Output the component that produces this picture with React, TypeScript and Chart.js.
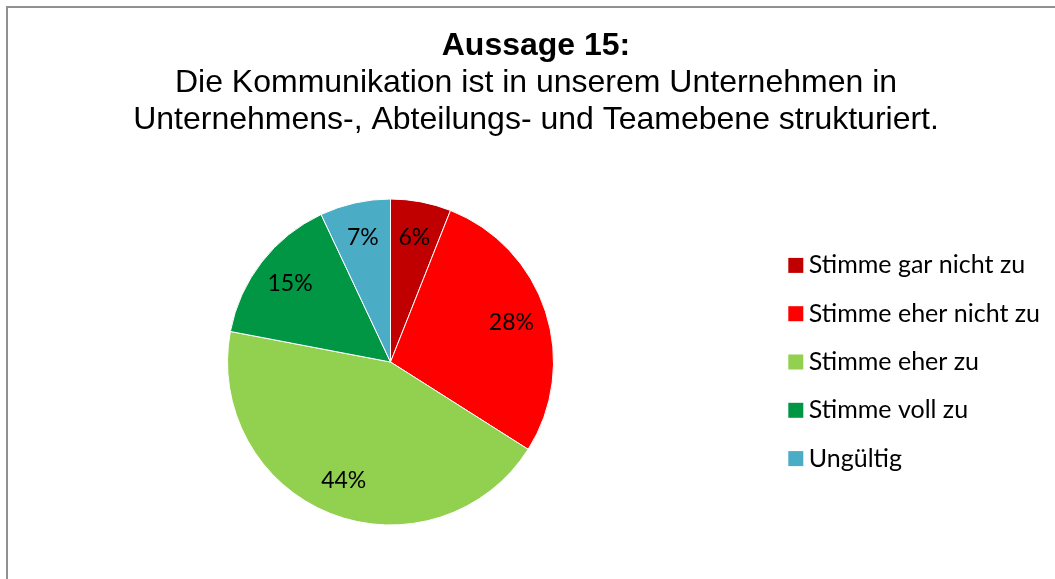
import React, { useEffect, useRef } from "react";
import { Chart, registerables } from "chart.js";

Chart.register(...registerables);

// ---- data ----
const titleLine = "Aussage 15:";
const subtitleLines = [
  "Die Kommunikation ist in unserem Unternehmen in",
  "Unternehmens-, Abteilungs- und Teamebene strukturiert.",
];
const categories = [
  "Stimme gar nicht zu",
  "Stimme eher nicht zu",
  "Stimme eher zu",
  "Stimme voll zu",
  "Ungültig",
];
const shares = [6, 28, 44, 15, 7];
const sliceColors = ["#C00000", "#FF0000", "#92D050", "#009644", "#4BACC6"];

// ---- styling ----
const W = 1055;
const H = 579;
const titleFont = "'Liberation Sans', Arial, sans-serif";
const bodyFont = "Lato, 'Noto Sans', sans-serif";
const PCT_FONT = 23;
const LEGEND_FONT = 25;
const LEGEND_GAP = 23.3;
const BOX_SLOT = 20; // reserved legend box width (invisible)
const SQUARE = 15; // visible legend square
const SQUARE_GAP = 5.5; // space between square and text

const pctLabels = {
  id: "pctLabels",
  afterDatasetsDraw(chart: any) {
    const ctx = chart.ctx;
    const meta = chart.getDatasetMeta(0);
    const total = shares.reduce((a, b) => a + b, 0);
    ctx.save();
    ctx.font = `${PCT_FONT}px ${bodyFont}`;
    ctx.fillStyle = "#000";
    ctx.textAlign = "center";
    ctx.textBaseline = "middle";
    meta.data.forEach((arc: any, i: number) => {
      const { x, y, startAngle, endAngle, outerRadius } = arc.getProps(
        ["x", "y", "startAngle", "endAngle", "outerRadius"],
        true
      );
      const mid = (startAngle + endAngle) / 2;
      const r = outerRadius * 0.78;
      const pct = Math.round((shares[i] / total) * 100);
      ctx.fillText(`${pct}%`, x + Math.cos(mid) * r, y + Math.sin(mid) * r);
    });
    ctx.restore();
  },
};

const legendSquares = {
  id: "legendSquares",
  afterDraw(chart: any) {
    const legend = chart.legend;
    if (!legend || !legend.legendHitBoxes) return;
    const ctx = chart.ctx;
    ctx.save();
    legend.legendHitBoxes.forEach((hb: any, i: number) => {
      const textX = hb.left + BOX_SLOT + LEGEND_FONT / 2;
      const cy = hb.top + hb.height / 2;
      ctx.fillStyle = sliceColors[i];
      ctx.fillRect(textX - SQUARE_GAP - SQUARE, cy - SQUARE / 2, SQUARE, SQUARE);
    });
    ctx.restore();
  },
};

export default function App() {
  const canvasRef = useRef<HTMLCanvasElement | null>(null);

  useEffect(() => {
    if (!canvasRef.current) return;
    const chart = new Chart(canvasRef.current, {
      type: "pie",
      data: {
        labels: categories,
        datasets: [
          {
            data: shares,
            backgroundColor: sliceColors,
            borderColor: "#ffffff",
            borderWidth: 1,
            hoverOffset: 0,
            radius: 163,
          } as any,
        ],
      },
      options: {
        responsive: false,
        animation: false,
        devicePixelRatio: 1,
        layout: { padding: { left: 28, right: 11, top: 0, bottom: 24 } },
        plugins: {
          title: {
            display: true,
            text: titleLine,
            color: "#000",
            font: { family: titleFont, size: 32, weight: "bold", lineHeight: 37 / 32 },
            padding: { top: 28, bottom: 0 },
          },
          subtitle: {
            display: true,
            text: subtitleLines,
            color: "#000",
            font: { family: titleFont, size: 32, weight: "normal", lineHeight: 37 / 32 },
            padding: { top: 0, bottom: 30 },
          },
          legend: {
            position: "right",
            fullSize: false,
            align: "center",
            maxWidth: 291,
            labels: {
              font: { family: bodyFont, size: LEGEND_FONT },
              color: "#000",
              padding: LEGEND_GAP,
              boxWidth: BOX_SLOT,
              boxHeight: SQUARE,
              generateLabels: () =>
                categories.map((t, i) => ({
                  text: t,
                  fillStyle: "rgba(0,0,0,0)",
                  strokeStyle: "rgba(0,0,0,0)",
                  lineWidth: 0,
                  index: i,
                  hidden: false,
                })) as any,
            },
          },
          tooltip: { enabled: false },
        },
      } as any,
      plugins: [pctLabels, legendSquares],
    });
    return () => chart.destroy();
  }, []);

  return (
    <div
      style={{
        position: "fixed",
        left: 0,
        top: 0,
        width: W,
        height: H,
        overflow: "hidden",
        background: "#fff",
      }}
    >
      <div
        style={{
          position: "absolute",
          left: 6,
          top: 6,
          width: 1100,
          height: 640,
          border: "2px solid #909090",
          boxSizing: "border-box",
        }}
      />
      <canvas
        ref={canvasRef}
        width={W}
        height={H}
        style={{ position: "absolute", left: 0, top: 0, width: W, height: H }}
      />
    </div>
  );
}
